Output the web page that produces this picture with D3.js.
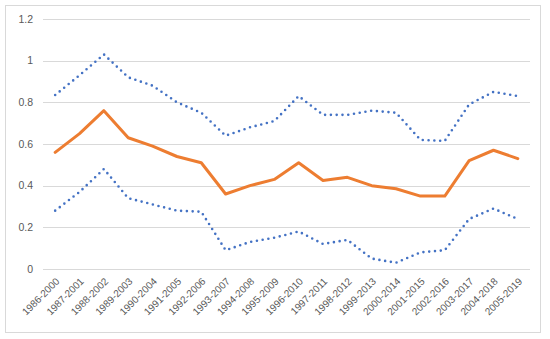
<!DOCTYPE html>
<html>
<head>
<meta charset="utf-8">
<script src="https://cdn.jsdelivr.net/npm/d3@7"></script>
<style>
  html, body { margin: 0; padding: 0; background: #fff; }
  svg { display: block; }
</style>
</head>
<body>
<svg id="chart" width="550" height="339"></svg>
<script>
const categories = ["1986-2000","1987-2001","1988-2002","1989-2003","1990-2004","1991-2005","1992-2006","1993-2007","1994-2008","1995-2009","1996-2010","1997-2011","1998-2012","1999-2013","2000-2014","2001-2015","2002-2016","2003-2017","2004-2018","2005-2019"];
const upperValues = [0.835,0.93,1.03,0.92,0.88,0.80,0.75,0.64,0.68,0.71,0.83,0.74,0.74,0.76,0.75,0.62,0.615,0.79,0.85,0.83];
const middleValues = [0.56,0.65,0.76,0.63,0.59,0.54,0.51,0.36,0.40,0.43,0.51,0.425,0.44,0.40,0.385,0.35,0.35,0.52,0.57,0.53];
const lowerValues = [0.28,0.37,0.48,0.34,0.31,0.28,0.275,0.09,0.13,0.15,0.18,0.12,0.14,0.05,0.03,0.08,0.09,0.24,0.29,0.24];
const yTicks = [0,0.2,0.4,0.6,0.8,1,1.2];

(function () {
const svg = d3.select("#chart");
svg.append("rect").attr("x",5.5).attr("y",5.5).attr("width",535).attr("height",327)
  .attr("fill","#fff").attr("stroke","#d9d9d9").attr("stroke-width",1);

const mLeft = 43, mRight = 530, mTop = 19, mBottom = 269;
const x = d3.scaleBand().domain(categories).range([mLeft, mRight]).paddingInner(0).paddingOuter(0);
const y = d3.scaleLinear().domain([0, 1.2]).range([mBottom, mTop]);

const font = "'Liberation Sans', Arial, sans-serif";

// gridlines
svg.append("g").selectAll("line").data(yTicks).join("line")
  .attr("x1", mLeft).attr("x2", mRight)
  .attr("y1", d => Math.round(y(d)) + 0.5).attr("y2", d => Math.round(y(d)) + 0.5)
  .attr("stroke", "#d9d9d9").attr("stroke-width", 1);

// y labels
svg.append("g").selectAll("text").data(yTicks).join("text")
  .attr("x", 33).attr("y", d => y(d)).attr("dy", "0.35em")
  .attr("text-anchor", "end").attr("font-family", font).attr("font-size", 10.5)
  .attr("fill", "#595959").text(d => d3.format("")(d));

// x labels
svg.append("g").selectAll("text").data(categories).join("text")
  .attr("text-anchor", "end").attr("font-family", font).attr("font-size", 10)
  .attr("fill", "#595959")
  .attr("transform", d => `translate(${x(d) + x.bandwidth()/2 + 5},${mBottom + 13}) rotate(-45)`)
  .text(d => d);

const line = d3.line().x((d, i) => x(categories[i]) + x.bandwidth()/2).y(d => y(d));

svg.append("path").datum(upperValues).attr("d", line)
  .attr("fill","none").attr("stroke","#4472C4").attr("stroke-width",2.6)
  .attr("stroke-linecap","round").attr("stroke-dasharray","0 5.8");
svg.append("path").datum(lowerValues).attr("d", line)
  .attr("fill","none").attr("stroke","#4472C4").attr("stroke-width",2.6)
  .attr("stroke-linecap","round").attr("stroke-dasharray","0 5.8");
svg.append("path").datum(middleValues).attr("d", line)
  .attr("fill","none").attr("stroke","#ED7D31").attr("stroke-width",3)
  .attr("stroke-linejoin","round").attr("stroke-linecap","round");
})();
</script>
</body>
</html>
